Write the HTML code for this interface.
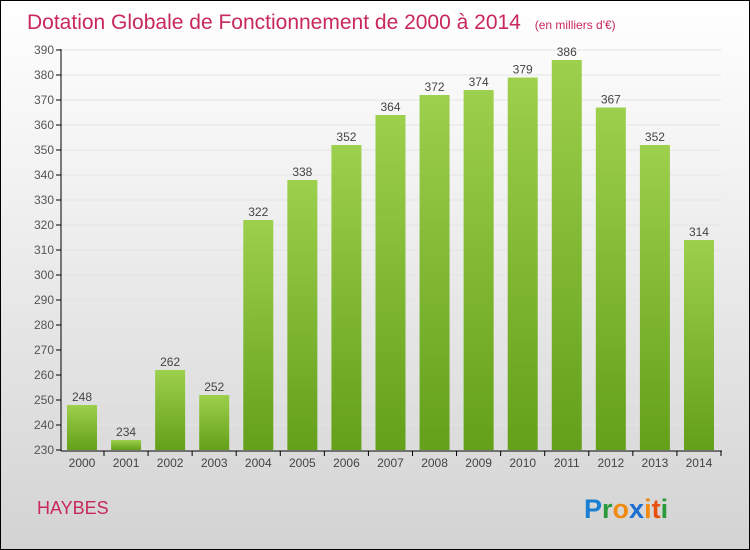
<!DOCTYPE html>
<html><head><meta charset="utf-8"><style>
body{margin:0}
#wrap{position:relative;width:748px;height:548px;border:1px solid #000;background:linear-gradient(#fff,#f3f3f3 30%,#d3d3d3);font-family:"Liberation Sans",sans-serif;overflow:hidden}
</style></head><body>
<div id="wrap">
<svg id="chart" width="748" height="548">
<defs><linearGradient id="g" x1="0" y1="0" x2="0" y2="1"><stop offset="0" stop-color="#9dd04c"/><stop offset="1" stop-color="#64a01a"/></linearGradient></defs>
<text x="26" y="28" font-size="21" fill="#c8285a">Dotation Globale de Fonctionnement de 2000 à 2014 <tspan font-size="12" dx="8">(en milliers d'€)</tspan></text>
<g id="grid"></g><g id="bars"></g><g id="axes"></g>
<text x="36" y="513" font-size="18" fill="#c8285a">HAYBES</text>
<g font-size="27" font-weight="bold" font-family="Liberation Sans, sans-serif">
<text x="583" y="517"><tspan fill="#1a7fd0">P</tspan><tspan fill="#2a9a3a">r</tspan><tspan fill="#f08a10">o</tspan><tspan fill="#1a6fd0">x</tspan><tspan fill="#f08a10">i</tspan><tspan fill="#e85010">t</tspan><tspan fill="#2a9a3a">i</tspan></text></g>
</svg></div>
<script>
const years=["2000","2001","2002","2003","2004","2005","2006","2007","2008","2009","2010","2011","2012","2013","2014"];
const values=[248,234,262,252,322,338,352,364,372,374,379,386,367,352,314];
const ticks=[230,240,250,260,270,280,290,300,310,320,330,340,350,360,370,380,390];
const ns="http://www.w3.org/2000/svg";
const y=v=>449-(v-230)*2.5, x=i=>81+i*44.07;
function mk(t,a,p){const e=document.createElementNS(ns,t);for(const k in a)e.setAttribute(k,a[k]);p.appendChild(e);return e;}
const G=document.getElementById('grid'),B=document.getElementById('bars'),A=document.getElementById('axes');
ticks.forEach(t=>{
 const l=mk('line',{x1:60,x2:720,y1:y(t),y2:y(t),stroke:'#e4e4e4','stroke-width':1},G);
 
 mk('line',{x1:55,x2:60,y1:y(t),y2:y(t),stroke:'#000'},A);
 const tx=mk('text',{x:53,y:y(t)+4,'text-anchor':'end','font-size':12,fill:'#555'},A);tx.textContent=t;
 
});
values.forEach((v,i)=>{
 const r=mk('rect',{x:x(i)-15,y:y(v),width:30,height:y(230)-y(v),fill:'url(#g)'},B);
 
 const t=mk('text',{x:x(i),y:y(v)-4,'text-anchor':'middle','font-size':12,fill:'#444'},B);t.textContent=v;
 
 mk('line',{x1:x(i)+22,x2:x(i)+22,y1:450,y2:455,stroke:'#000'},A);
 const yl=mk('text',{x:x(i),y:466,'text-anchor':'middle','font-size':12,fill:'#444'},A);yl.textContent=years[i];
 
});
mk('line',{x1:60,x2:60,y1:48,y2:450,stroke:'#000'},A);
mk('line',{x1:60,x2:721,y1:450,y2:450,stroke:'#000'},A);
</script>
</body></html>
